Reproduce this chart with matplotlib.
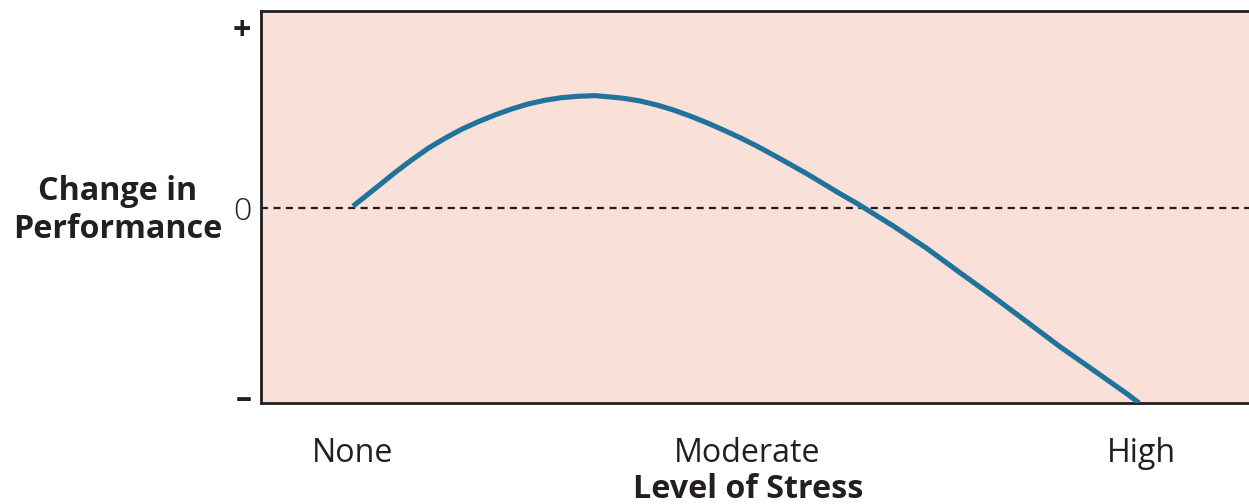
import matplotlib
matplotlib.use("Agg")
import matplotlib.pyplot as plt

plt.rcParams['font.family'] = ['Open Sans', 'DejaVu Sans']

# Stress level (0 = None, 1 = Moderate, 2 = High) vs. change in performance
stress = [0.0, 0.0305, 0.0642, 0.1066, 0.1490, 0.1911, 0.2335, 0.2759, 0.3180,
          0.3604, 0.4028, 0.4449, 0.4873, 0.5297, 0.5718, 0.6142, 0.6439, 0.6860,
          0.7284, 0.7708, 0.8129, 0.8553, 0.8977, 0.9398, 0.9822, 1.0246, 1.0668,
          1.1091, 1.1515, 1.1937, 1.2360, 1.2784, 1.3713, 1.4561, 1.5406,
          1.6251, 1.7099, 1.7944, 1.8789, 1.9637, 1.995]
performance = [0.01, 0.063, 0.122, 0.197, 0.267, 0.3317, 0.3872, 0.4372, 0.4794,
               0.5167, 0.5500, 0.5778, 0.5983, 0.6128, 0.6206, 0.6239, 0.6183, 0.6094,
               0.5944, 0.5722, 0.5444, 0.5111, 0.4739, 0.4333, 0.3906, 0.3444, 0.2944,
               0.2428, 0.1906, 0.1350, 0.0794, 0.0261, -0.1000, -0.2239, -0.3594,
               -0.4928, -0.6317, -0.7706, -0.9000, -1.0310, -1.083]

x_ticks = [0, 1, 2]
x_labels = ["None", "Moderate", "High"]
y_ticks = [-1.04, 0, 1]
y_labels = ["\u2013", "0", "+"]

W, H = 1249, 504
fig = plt.figure(figsize=(W / 100, H / 100), dpi=100)
ax = fig.add_axes([261 / W, 1 - 403 / H, (W - 261) / W + 0.01, (403 - 11) / H])

ink = "#231f20"
ax.set_facecolor("#f9e0d8")
ax.set_xlim(-0.2335, 2.274 + 0.01 * W / 394)
ax.set_ylim(-1.083, 1.094)

ax.axhline(0, color=ink, lw=1.6, linestyle=(0, (3.2, 2.4)), zorder=2)
ax.plot(stress, performance, color="#21739c", lw=3.7, solid_capstyle="butt",
        solid_joinstyle="round", zorder=3)

for side in ["left", "bottom", "top"]:
    ax.spines[side].set_color(ink)
    ax.spines[side].set_linewidth(2.0)
ax.spines["right"].set_visible(False)

fs = 23.2
ax.set_xticks(x_ticks)
ax.set_xticklabels(x_labels, fontsize=fs, color=ink)
ax.set_yticks(y_ticks)
ax.set_yticklabels(y_labels, fontsize=fs, color=ink)
for lab in ax.get_yticklabels():
    if lab.get_text() != "0":
        lab.set_fontweight("bold")
    else:
        lab.set_fontweight("light")
ax.tick_params(axis="x", length=0, pad=24.5)
ax.tick_params(axis="y", length=0, pad=7)

fig.text(118 / W, 1 - 191 / H, "Change in", ha="center", va="center",
         fontsize=fs, fontweight="bold", color=ink)
fig.text(118 / W, 1 - 230 / H, "Performance", ha="center", va="center",
         fontsize=fs, fontweight="bold", color=ink)
fig.text(748 / W, 1 - 489 / H, "Level of Stress", ha="center", va="center",
         fontsize=fs, fontweight="bold", color=ink)

fig.savefig("out.png", dpi=100)
